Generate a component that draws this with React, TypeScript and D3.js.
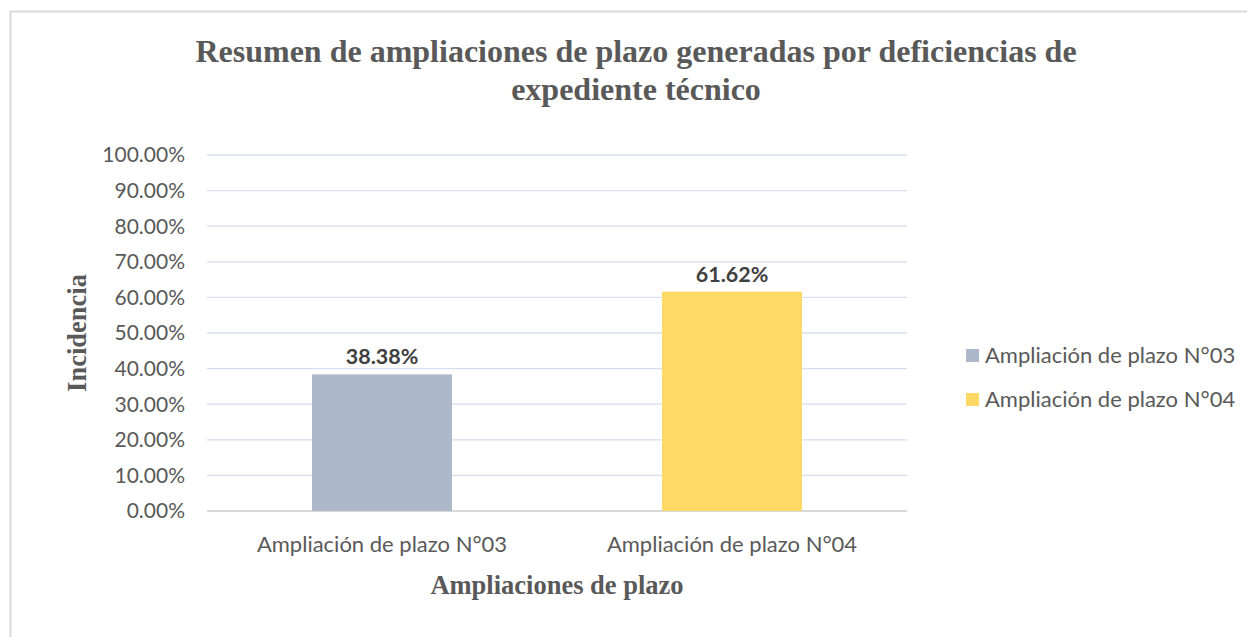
import React from "react";
import * as d3 from "d3";

const categories = ["Ampliación de plazo N°03", "Ampliación de plazo N°04"];
const values = [0.3838, 0.6162];
const colors = ["#adb9ca", "#ffd966"];
const yTicks = [0, 0.1, 0.2, 0.3, 0.4, 0.5, 0.6, 0.7, 0.8, 0.9, 1.0];
const titleLines = [
  "Resumen de ampliaciones de plazo generadas por deficiencias de",
  "expediente técnico",
];
const xTitle = "Ampliaciones de plazo";
const yTitle = "Incidencia";

const W = 1247;
const H = 637;
const plot = { left: 207, right: 907, top: 155, bottom: 511 };
const sansFont = "Lato, 'Open Sans', sans-serif";
const serifFont = "'Liberation Serif', 'DejaVu Serif', serif";

export default function App() {
  const x = d3
    .scaleBand<string>()
    .domain(categories)
    .range([plot.left, plot.right])
    .paddingInner(0.6)
    .paddingOuter(0.3);
  const y = d3.scaleLinear().domain([0, 1]).range([plot.bottom, plot.top]);
  const fmt = d3.format(".2%");

  return (
    <svg
      width={W}
      height={H}
      style={{ position: "absolute", left: 0, top: 0, background: "#fff" }}
    >
      <rect x={10.5} y={11.5} width={W} height={H} fill="#fff" stroke="#d9d9d9" strokeWidth={2} />
      {titleLines.map((t, i) => (
        <text
          key={i}
          x={636}
          y={62 + i * 38}
          textAnchor="middle"
          fontFamily={serifFont}
          fontWeight="bold"
          fontSize={32}
          fill="#595959"
        >
          {t}
        </text>
      ))}
      {yTicks.map((t) => (
        <g key={t}>
          <line
            x1={plot.left}
            x2={plot.right}
            y1={y(t)}
            y2={y(t)}
            stroke={t === 0 ? "#d9d9d9" : "#d6dff0"}
            strokeWidth={t === 0 ? 2 : 1.3}
          />
          <text
            x={185}
            y={y(t)}
            dy="0.35em"
            textAnchor="end"
            fontFamily={sansFont}
            fontSize={21}
            fill="#595959"
          >
            {fmt(t)}
          </text>
        </g>
      ))}
      {categories.map((c, i) => (
        <g key={c}>
          <rect
            x={x(c)}
            y={y(values[i])}
            width={x.bandwidth()}
            height={y(0) - y(values[i])}
            fill={colors[i]}
          />
          <text
            x={(x(c) as number) + x.bandwidth() / 2}
            y={y(values[i]) - 10}
            textAnchor="middle"
            fontFamily={sansFont}
            fontWeight="bold"
            fontSize={21.5}
            fill="#404040"
          >
            {fmt(values[i])}
          </text>
          <text
            x={(x(c) as number) + x.bandwidth() / 2}
            y={544}
            dy="0.35em"
            textAnchor="middle"
            fontFamily={sansFont}
            fontSize={22}
            fill="#595959"
          >
            {c}
          </text>
        </g>
      ))}
      <text
        x={557}
        y={594}
        textAnchor="middle"
        fontFamily={serifFont}
        fontWeight="bold"
        fontSize={26.5}
        fill="#595959"
      >
        {xTitle}
      </text>
      <text
        transform={`translate(86, ${(plot.top + plot.bottom) / 2}) rotate(-90)`}
        textAnchor="middle"
        fontFamily={serifFont}
        fontWeight="bold"
        fontSize={26.5}
        fill="#595959"
      >
        {yTitle}
      </text>
      {categories.map((c, i) => (
        <g key={"lg" + c} transform={`translate(966, ${349 + i * 44})`}>
          <rect width={13} height={13} fill={colors[i]} />
          <text x={19} y={6.5} dy="0.35em" fontFamily={sansFont} fontSize={22} fill="#595959">
            {c}
          </text>
        </g>
      ))}
    </svg>
  );
}
